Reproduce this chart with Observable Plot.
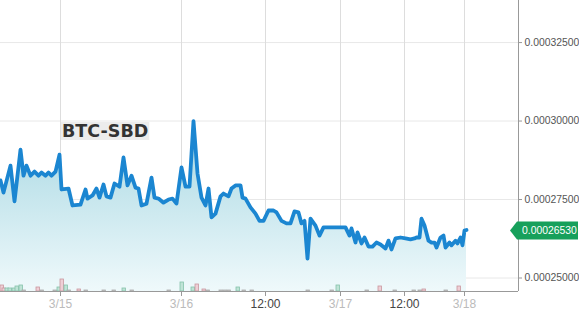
<!DOCTYPE html>
<html>
<head>
<meta charset="utf-8">
<script src="https://cdn.jsdelivr.net/npm/d3@7"></script>
<script src="https://cdn.jsdelivr.net/npm/@observablehq/plot@0.6"></script>
<style>
  html, body { margin: 0; padding: 0; background: #fff; }
  #chart { width: 579px; height: 316px; overflow: hidden; }
</style>
</head>
<body>
<div id="chart"></div>
<script>
// ---- data (sample slot index along the time axis, price in BTC) ----
const slot = [0,3,10,14,20,23,26,30,34,38,41,45,48,51,55,59,61,68,72,80,85,87,92,96,99,103,106,110,114,119,123,127,131,135,138,141,146,151,154,158,163,168,172,176,181,185,189,193,197,201,205,208,211,215,220,223,228,231,235,240,242,245,250,255,259,263,268,273,276,281,286,290,294,298,301,304,307,310,315,319,323,340,345,349,351,355,357,361,364,368,372,376,380,385,388,391,395,400,405,410,414,416,419,421,424,428,431,434,436,440,443,445,449,451,455,457,460,462,464,466];
const price = [0.0002811,0.0002772,0.0002858,0.0002744,0.0002909,0.0002826,0.0002858,0.0002826,0.0002839,0.0002826,0.0002836,0.0002826,0.0002836,0.0002826,0.0002839,0.0002893,0.0002782,0.0002785,0.0002731,0.0002734,0.0002782,0.0002753,0.0002763,0.0002785,0.0002756,0.0002798,0.0002760,0.0002756,0.0002801,0.0002791,0.0002884,0.0002795,0.0002826,0.0002788,0.0002785,0.0002731,0.0002737,0.0002820,0.0002756,0.0002753,0.0002740,0.0002750,0.0002753,0.0002737,0.0002852,0.0002791,0.0002791,0.0003000,0.0002833,0.0002756,0.0002731,0.0002785,0.0002693,0.0002705,0.0002760,0.0002769,0.0002760,0.0002785,0.0002795,0.0002795,0.0002756,0.0002753,0.0002725,0.0002705,0.0002682,0.0002682,0.0002715,0.0002715,0.0002709,0.0002682,0.0002674,0.0002674,0.0002712,0.0002709,0.0002674,0.0002682,0.0002562,0.0002689,0.0002667,0.0002635,0.0002661,0.0002661,0.0002661,0.0002635,0.0002658,0.0002613,0.0002645,0.0002610,0.0002629,0.0002600,0.0002600,0.0002613,0.0002607,0.0002594,0.0002619,0.0002591,0.0002626,0.0002629,0.0002626,0.0002623,0.0002626,0.0002629,0.0002629,0.0002689,0.0002667,0.0002619,0.0002613,0.0002613,0.0002597,0.0002629,0.0002635,0.0002597,0.0002613,0.0002604,0.0002619,0.0002610,0.0002629,0.0002604,0.0002651,0.0002653];
const lastPrice = 0.0002653;

// volume bars (slot of bar, relative volume, direction)
const volSlot = [0,2,5,8,12,15,19,22,36,40,53,57,60,64,67,77,84,102,112,122,130,167,180,191,195,202,206,219,223,227,236,242,250,306,330,336,365,378,393,412,418,422,444,457];
const volAmt  = [6,3,3,3,3,5,6,1,4,1,1,4,12,6,1,2,1,1,1,3,1,1,9,4,7,2,1,1,1,1,4,1,1,1,1,6,1,5,1,1,1,2,1,5];
const volDir  = ["down","down","up","up","up","up","up","flat","down","flat","flat","up","down","up","flat","down","flat","flat","flat","up","flat","flat","up","up","down","down","flat","flat","flat","flat","up","flat","flat","flat","flat","up","flat","down","flat","flat","flat","down","flat","down"];

// axis ticks
const xTicks = [60, 181, 265, 340, 404, 464];
const xLabels = ["3/15", "3/16", "12:00", "3/17", "12:00", "3/18"];
const yTicks = [0.00025, 0.000275, 0.0003, 0.000325];
const pairLabel = "BTC-SBD";

// ---- build ----
const yMin = 0.0002457, yMax = 0.0003384;
const volUnit = (yMax - yMin) / 291; // volume units drawn on the price band
const data = slot.map((s, i) => ({slot: s, price: price[i]}));
const vols = volSlot.map((s, i) => ({slot: s, amt: volAmt[i], dir: volDir[i]}));
const volFill = {up: "#bfe3d6", down: "#efcfd6", flat: "#e3e3e3"};
const volStroke = {up: "#86c2ab", down: "#c9979f", flat: "#aaaaaa"};

const plot = Plot.plot({
  width: 579, height: 316,
  marginLeft: 0, marginRight: 61, marginTop: 0, marginBottom: 25,
  style: {fontFamily: "'Liberation Sans', Arial, sans-serif", background: "#fff"},
  x: {domain: [0, 518]},
  y: {domain: [yMin, yMax]},
  marks: [
    Plot.ruleY(yTicks, {stroke: "#e8e8e8"}),
    Plot.ruleX(xTicks, {stroke: "#dddddd"}),
    Plot.areaY(data, {x: "slot", y1: yMin, y2: "price", fill: "url(#btcGrad)"}),
    Plot.rect(vols, {x1: "slot", x2: d => d.slot + 3.5, y1: yMin, y2: d => yMin + d.amt * volUnit,
      fill: d => volFill[d.dir], stroke: d => volStroke[d.dir], strokeWidth: 0.8}),
    Plot.line(data, {x: "slot", y: "price", stroke: "#1b86d1", strokeWidth: 3.8, strokeLinejoin: "round"}),
    Plot.ruleX([518], {stroke: "#999"}),
    Plot.ruleY([yMin], {stroke: "#999"}),
    Plot.axisY(yTicks, {anchor: "right", tickSize: 3, tickPadding: 3, stroke: "#999",
      tickFormat: d3.format(".8f"), fontSize: 10.4, fill: "#555", label: null}),
    Plot.axisX(xTicks, {anchor: "bottom", tickSize: 5, tickPadding: 3, stroke: "#999",
      tickFormat: d => xLabels[xTicks.indexOf(d)], fontSize: 12,
      fill: d => xLabels[xTicks.indexOf(d)].includes(":") ? "#444" : "#bbb", label: null})
  ]
});

document.getElementById("chart").appendChild(plot);

const svg = d3.select(plot);
const grad = svg.insert("defs", ":first-child").append("linearGradient")
  .attr("id", "btcGrad").attr("x1", 0).attr("y1", 0).attr("x2", 0).attr("y2", 1);
grad.append("stop").attr("offset", "0%").attr("stop-color", "#a6d7e2");
grad.append("stop").attr("offset", "100%").attr("stop-color", "#eff9fb");

// pair label
const g = svg.append("g");
const t = g.append("text").attr("x", 62).attr("y", 137).attr("text-anchor", "start")
  .attr("font-family", "'DejaVu Sans', sans-serif").attr("font-weight", "bold")
  .attr("font-size", 17.5).attr("fill", "#333").text(pairLabel);
const bb = t.node().getBBox();
g.insert("rect", "text").attr("x", bb.x - 1).attr("y", 122).attr("width", bb.width + 2).attr("height", 18)
  .attr("fill", "#ececec");

// last price tag
const yc = plot.scale("y").apply(lastPrice) + 1;
svg.append("path")
  .attr("d", `M510,${yc} L517,${yc - 9} L578,${yc - 9} L578,${yc + 9} L517,${yc + 9} Z`)
  .attr("fill", "#17a05b");
svg.append("text").attr("x", 522).attr("y", yc).attr("dy", "0.35em").attr("text-anchor", "start")
  .attr("font-family", "'Liberation Sans', Arial, sans-serif").attr("font-size", 10.4)
  .attr("fill", "#fff").text(d3.format(".8f")(lastPrice));
</script>
</body>
</html>
